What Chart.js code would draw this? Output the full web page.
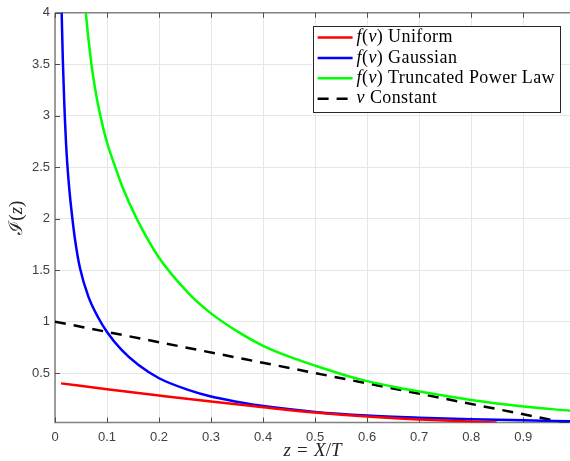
<!DOCTYPE html>
<html>
<head>
<meta charset="utf-8">
<title>I(z) curves</title>
<script src="https://cdn.jsdelivr.net/npm/chart.js@4.4.1/dist/chart.umd.min.js"></script>
<style>
  html, body { margin: 0; padding: 0; background: #ffffff; }
  #wrap { width: 570px; height: 461px; }
</style>
</head>
<body>
<div id="wrap"><canvas id="chart" width="570" height="461"></canvas></div>
<script>
// ---- data: I(z) for each velocity model ----
const uniformZ = [0.0115, 0.1, 0.2, 0.3, 0.4, 0.5, 0.6, 0.7, 0.8, 0.849];
const uniformI = [0.40, 0.343, 0.282, 0.223, 0.169, 0.116, 0.078, 0.05, 0.029, 0.02];

const gaussZ = [0.0115, 0.0128, 0.015, 0.018, 0.0225, 0.028, 0.033, 0.0384, 0.048, 0.064, 0.083, 0.1,
                0.128, 0.16, 0.2, 0.256, 0.3, 0.352, 0.4, 0.5, 0.6, 0.7, 0.8, 0.9, 0.99];
const gaussI = [4.35, 4, 3.55, 3.1, 2.62, 2.26, 2.02, 1.8, 1.52, 1.245, 1.04, 0.9,
                0.725, 0.58, 0.45, 0.337, 0.272, 0.22, 0.18, 0.123, 0.088, 0.067, 0.052, 0.041, 0.032];

const powerZ = [0.055, 0.0593, 0.07, 0.08, 0.089, 0.1, 0.118, 0.131, 0.157, 0.2, 0.256, 0.3, 0.352, 0.4,
                0.45, 0.5, 0.564, 0.6, 0.66, 0.7, 0.8, 0.9, 0.99];
const powerI = [4.3, 4, 3.5, 3.18, 2.96, 2.74, 2.47, 2.29, 2.0, 1.62, 1.28, 1.08, 0.9, 0.765,
                0.66, 0.573, 0.47, 0.422, 0.358, 0.322, 0.238, 0.176, 0.134];

const constZ = [0, 0.99];
const constI = [1, 0.01];

const xTicks = [0, 0.1, 0.2, 0.3, 0.4, 0.5, 0.6, 0.7, 0.8, 0.9];
const yTicks = [0.5, 1, 1.5, 2, 2.5, 3, 3.5, 4];

const seriesSymbols = ["f(v)", "f(v)", "f(v)", "v"];
const seriesNames = ["Uniform", "Gaussian", "Truncated Power Law", "Constant"];

const xTitle = "z = X/T";
const yTitle = "\u2110(z)";

const SERIF = '"Liberation Serif", "Times New Roman", serif';
const SANS = '"Liberation Sans", Arial, sans-serif';

function toPoints(xs, ys) {
  return xs.map((x, i) => ({ x: x, y: ys[i] }));
}

// letters in italic, digits / symbols upright, wide spaces (like LaTeX math mode)
function mathWidth(ctx, text, size) {
  let w = 0;
  for (const ch of text) {
    if (ch === " ") { w += size * 0.33; continue; }
    ctx.font = (/[A-Za-z]/.test(ch) ? "italic " : "") + size + "px " + SERIF;
    w += ctx.measureText(ch).width;
  }
  return w;
}

function drawMath(ctx, text, x, y, size) {
  let cx = x;
  for (const ch of text) {
    if (ch === " ") { cx += size * 0.33; continue; }
    ctx.font = (/[A-Za-z]/.test(ch) ? "italic " : "") + size + "px " + SERIF;
    ctx.fillText(ch, cx, y);
    cx += ctx.measureText(ch).width;
  }
  return cx - x;
}

// axis box with inward ticks, drawn under the curves
const axesBox = {
  id: "axesBox",
  beforeDatasetsDraw(chart) {
    const { ctx, chartArea: a, scales } = chart;
    const x = scales.x, y = scales.y;
    ctx.save();
    ctx.strokeStyle = "#808080";
    ctx.lineWidth = 1.5;
    ctx.beginPath();
    ctx.moveTo(a.left, a.top);
    ctx.lineTo(a.right, a.top);
    ctx.moveTo(a.left, a.top);
    ctx.lineTo(a.left, a.bottom);
    ctx.lineTo(a.right, a.bottom);
    ctx.stroke();

    ctx.strokeStyle = "#4d4d4d";
    ctx.lineWidth = 1;
    ctx.beginPath();
    x.ticks.forEach((t) => {
      const px = Math.round(x.getPixelForValue(t.value)) + 0.5;
      ctx.moveTo(px, a.bottom);
      ctx.lineTo(px, a.bottom - 5);
      ctx.moveTo(px, a.top);
      ctx.lineTo(px, a.top + 5);
    });
    y.ticks.forEach((t) => {
      const py = Math.round(y.getPixelForValue(t.value)) + 0.5;
      ctx.moveTo(a.left, py);
      ctx.lineTo(a.left + 5, py);
    });
    ctx.stroke();
    ctx.restore();
  }
};

// axis titles and the legend box
const labelsAndLegend = {
  id: "labelsAndLegend",
  afterDraw(chart) {
    const { ctx, chartArea: a } = chart;
    ctx.save();
    ctx.fillStyle = "#262626";
    ctx.textBaseline = "middle";

    // x title
    const xw = mathWidth(ctx, xTitle, 19);
    drawMath(ctx, xTitle, (a.left + a.right) / 2 - xw / 2, 451, 19);

    // y title, rotated
    ctx.save();
    ctx.translate(17, (a.top + a.bottom) / 2);
    ctx.rotate(-Math.PI / 2);
    const yw = mathWidth(ctx, yTitle, 19);
    drawMath(ctx, yTitle, -yw / 2, 0, 19);
    ctx.restore();

    // legend
    const size = 18;
    const rowH = 20.4;
    const sampleLen = 35;
    const sets = chart.data.datasets;
    ctx.letterSpacing = "0.4px";
    let textW = 0;
    sets.forEach((ds) => {
      const sw = mathWidth(ctx, ds.symbol, size);
      ctx.font = size + "px " + SERIF;
      textW = Math.max(textW, sw + ctx.measureText(" " + ds.label).width);
    });
    const boxW = 5 + sampleLen + 4 + textW + 5;
    const boxH = rowH * sets.length + 4.5;
    const right = a.right - 10;
    const left = right - boxW;
    const top = a.top + 13;

    ctx.fillStyle = "#ffffff";
    ctx.fillRect(left, top, boxW, boxH);
    ctx.strokeStyle = "#262626";
    ctx.lineWidth = 1;
    ctx.strokeRect(Math.round(left) + 0.5, Math.round(top) + 0.5, Math.round(boxW), Math.round(boxH));

    sets.forEach((ds, i) => {
      const cy = top + 11.7 + i * rowH;
      ctx.save();
      ctx.strokeStyle = ds.borderColor;
      ctx.lineWidth = ds.borderWidth;
      ctx.setLineDash(ds.borderDash || []);
      ctx.beginPath();
      ctx.moveTo(left + 5, cy);
      ctx.lineTo(left + 5 + sampleLen, cy);
      ctx.stroke();
      ctx.restore();

      ctx.fillStyle = "#000000";
      const tx = left + 5 + sampleLen + 4;
      const sw = drawMath(ctx, ds.symbol, tx, cy, size);
      ctx.font = size + "px " + SERIF;
      ctx.fillText(" " + ds.label, tx + sw, cy);
    });
    ctx.restore();
  }
};

function makeSet(i, xs, ys, color, dash) {
  return {
    label: seriesNames[i],
    symbol: seriesSymbols[i],
    data: toPoints(xs, ys),
    borderColor: color,
    borderWidth: 2.5,
    borderDash: dash,
    pointRadius: 0,
    showLine: true,
    fill: false,
    cubicInterpolationMode: "monotone"
  };
}

new Chart(document.getElementById("chart"), {
  type: "scatter",
  data: {
    datasets: [
      makeSet(0, uniformZ, uniformI, "#ff0000", []),
      makeSet(1, gaussZ, gaussI, "#0000ff", []),
      makeSet(2, powerZ, powerI, "#00ff00", []),
      makeSet(3, constZ, constI, "#000000", [11, 8])
    ]
  },
  options: {
    responsive: false,
    animation: false,
    devicePixelRatio: 1,
    events: [],
    layout: { padding: { top: 12, right: 0, left: 0, bottom: 0 } },
    plugins: {
      legend: { display: false },
      tooltip: { enabled: false }
    },
    scales: {
      x: {
        type: "linear",
        min: 0,
        max: 0.99,
        afterBuildTicks: (scale) => { scale.ticks = xTicks.map((v) => ({ value: v })); },
        afterFit: (scale) => { scale.height = 38.5; },
        border: { display: false },
        grid: { color: "#e6e6e6", lineWidth: 1, drawTicks: false },
        ticks: {
          padding: 7,
          autoSkip: false,
          maxRotation: 0,
          color: "#404040",
          font: { family: SANS, size: 13 },
          callback: (v) => String(v)
        }
      },
      y: {
        type: "linear",
        min: 0.02,
        max: 4,
        afterBuildTicks: (scale) => { scale.ticks = yTicks.map((v) => ({ value: v })); },
        afterFit: (scale) => { scale.width = 55; },
        border: { display: false },
        grid: { color: "#e6e6e6", lineWidth: 1, drawTicks: false },
        ticks: {
          padding: 5,
          autoSkip: false,
          color: "#404040",
          font: { family: SANS, size: 13 },
          callback: (v) => String(v)
        }
      }
    }
  },
  plugins: [axesBox, labelsAndLegend]
});
</script>
</body>
</html>
